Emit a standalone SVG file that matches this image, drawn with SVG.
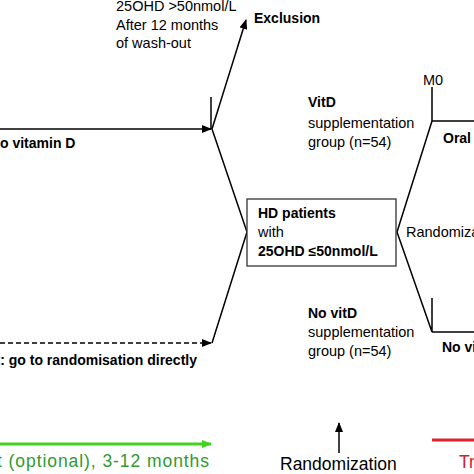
<svg xmlns="http://www.w3.org/2000/svg" width="474" height="474" viewBox="0 0 474 474">
<defs>
<marker id="ah" markerUnits="userSpaceOnUse" markerWidth="10" markerHeight="8" refX="9" refY="4" orient="auto"><path d="M0,0 L10,4 L0,8 z" fill="#000"/></marker>
<marker id="ahg" markerUnits="userSpaceOnUse" markerWidth="10" markerHeight="8" refX="9" refY="4" orient="auto"><path d="M0,0 L10,4 L0,8 z" fill="#3fd21f"/></marker>
<style>
text{font-family:"Liberation Sans",Arial,sans-serif;font-size:14.5px;fill:#000}
.b{font-weight:bold;font-size:14px}
.big{font-size:17.5px}
.ln{stroke:#000;stroke-width:1.5;fill:none}
</style>
</defs>
<rect width="474" height="474" fill="#fff"/>
<g id="connectors">
<line class="ln" x1="0" y1="129" x2="211" y2="129" marker-end="url(#ah)"/>
<line class="ln" x1="211" y1="97" x2="211" y2="129"/>
<line class="ln" x1="212" y1="129" x2="246" y2="20" marker-end="url(#ah)"/>
<polyline class="ln" points="212,129 247,232 212,343"/>
<line class="ln" x1="0" y1="343" x2="211" y2="343" stroke-dasharray="5,3" marker-end="url(#ah)"/>
<polyline class="ln" points="474,121 432,121 432,87"/>
<polyline class="ln" points="432,121 397,232 432,332 432,298"/>
<line class="ln" x1="432" y1="332" x2="474" y2="332"/>
<line x1="0" y1="444" x2="211" y2="444" stroke="#3fd21f" stroke-width="3" marker-end="url(#ahg)"/>
<line class="ln" x1="339" y1="453" x2="339" y2="423" stroke-width="2" marker-end="url(#ah)"/>
<line x1="432" y1="440" x2="474" y2="440" stroke="#e3202b" stroke-width="3"/>
</g>
<g id="washout-label">
<text x="116" y="11">25OHD &gt;50nmol/L</text>
<text x="116" y="29.5">After 12 months</text>
<text x="116" y="48">of wash-out</text>
</g>
<g id="exclusion"><text class="b" x="254" y="23">Exclusion</text></g>
<g id="vitd-label"><text class="b" x="0" y="148">o vitamin D</text></g>
<g id="direct-label"><text class="b" x="197" y="365" text-anchor="end">t: go to randomisation directly</text></g>
<g id="hd-box">
<rect x="247" y="199" width="149" height="67" fill="#fff" stroke="#333" stroke-width="1.3"/>
<text class="b" x="258" y="218">HD patients</text>
<text x="258" y="237">with</text>
<text class="b" x="258" y="256">25OHD ≤50nmol/L</text>
</g>
<g id="randomiza"><text x="406" y="237">Randomiza</text></g>
<g id="vitd-group">
<text class="b" x="308" y="107">VitD</text>
<text x="308" y="128">supplementation</text>
<text x="308" y="147">group (n=54)</text>
</g>
<g id="novitd-group">
<text class="b" x="308" y="318">No vitD</text>
<text x="308" y="337">supplementation</text>
<text x="308" y="356">group (n=54)</text>
</g>
<g id="m0"><text x="423" y="85">M0</text></g>
<g id="oral"><text class="b" x="443" y="143">Oral</text></g>
<g id="novi"><text class="b" x="442" y="352">No vi</text></g>
<g id="washout-timeline"><text class="big" x="-3" y="467" textLength="212" lengthAdjust="spacing" style="fill:#2f9a2f">t (optional), 3-12 months</text></g>
<g id="randomization"><text class="big" x="280" y="470">Randomization</text></g>
<g id="treatment"><text class="big" x="459" y="468" style="fill:#d0202a">Tr</text></g>
</svg>
